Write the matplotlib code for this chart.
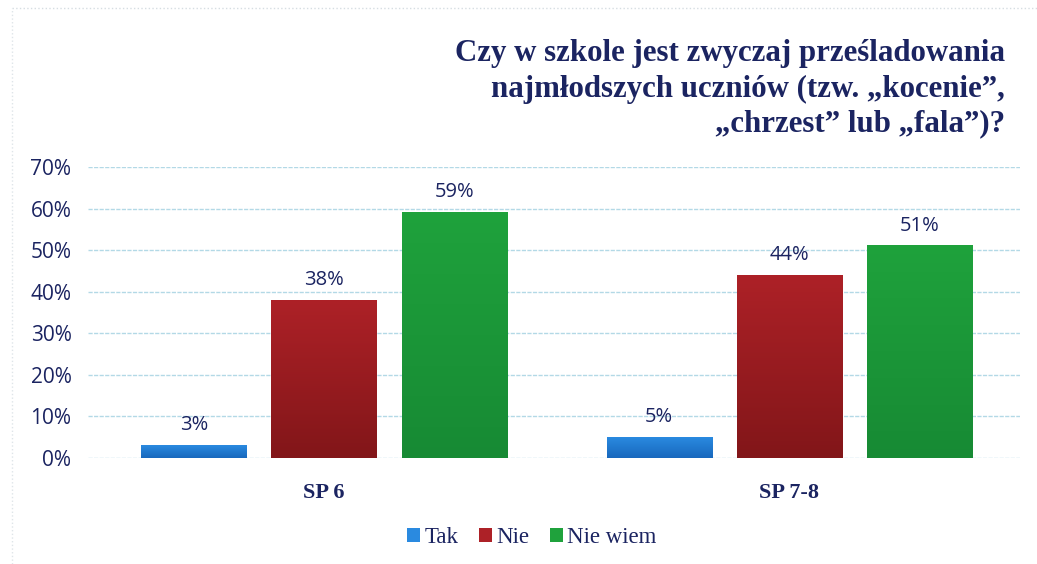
import numpy as np
import matplotlib.pyplot as plt
from matplotlib.colors import LinearSegmentedColormap
from matplotlib.lines import Line2D

# data
groups = ['SP 6', 'SP 7-8']
series = ['Tak', 'Nie', 'Nie wiem']
tak = [3, 5]
nie = [38, 44]
nie_wiem = [59, 51]
# (top, bottom) colours for the bar gradients
colors = [('#2a8ae0', '#1868bd'), ('#ad2127', '#821619'), ('#1fa23c', '#178a34')]

navy = '#1b2461'
fig = plt.figure(figsize=(10.37, 5.64), dpi=100)
ax = fig.add_axes([0.085, 0.188, 0.899, 0.516])

x = np.arange(len(groups))
width = 0.226
step = 0.2796
grad = np.linspace(0, 1, 256).reshape(-1, 1)
bars = []
for i, (vals, (ctop, cbot)) in enumerate(zip([tak, nie, nie_wiem], colors)):
    cmap = LinearSegmentedColormap.from_list('g%d' % i, [ctop, cbot])
    b = ax.bar(x + (i - 1) * step, np.array(vals) / 100, width, color=ctop,
               label=series[i], zorder=3)
    bars.append(b)
    for rect in b:
        x0, y0 = rect.get_x(), rect.get_y()
        ax.imshow(grad, cmap=cmap, aspect='auto', zorder=4,
                  extent=[x0, x0 + rect.get_width(), y0, y0 + rect.get_height()])
    for xi, v in zip(x, vals):
        ax.text(xi + (i - 1) * step, v / 100 + 0.025, f'{v}%', ha='center',
                va='bottom', fontsize=14.5, color=navy, family='Open Sans')

ax.set_xlim(-0.507, 1.497)
ax.set_ylim(0, 0.7)
ticks = np.arange(0, 0.71, 0.1)
ax.set_yticks(ticks)
ax.set_yticklabels([f'{int(round(t * 100))}%' for t in ticks],
                   fontsize=15, color=navy, family='Open Sans')
ax.set_xticks(x)
ax.set_xticklabels(groups, fontsize=16, fontweight='bold', color=navy,
                   family='Liberation Serif')
ax.tick_params(axis='both', length=0)
ax.tick_params(axis='x', pad=18)
ax.tick_params(axis='y', pad=12)
ax.grid(axis='y', color='#b3d9e6', linestyle=(0, (3, 1)), linewidth=1, zorder=0)
for s in ax.spines.values():
    s.set_visible(False)

fig.text(0.969, 0.93, 'Czy w szkole jest zwyczaj prześladowania\n'
         'najmłodszych uczniów (tzw. „kocenie”,\n„chrzest” lub „fala”)?',
         ha='right', va='top', multialignment='right', fontsize=22.2,
         fontweight='bold', color=navy, family='Liberation Serif', linespacing=1.27)

leg = fig.legend(handles=bars, labels=series, loc='center', bbox_to_anchor=(0.513, 0.047),
                 ncol=3, frameon=False, handlelength=0.55, handleheight=0.55,
                 handletextpad=0.2, columnspacing=0.9,
                 prop={'family': 'Liberation Serif', 'size': 16.5})
for t in leg.get_texts():
    t.set_color(navy)

# faint frame of the scanned chart box
fig.add_artist(Line2D([0.012, 1.0], [0.985, 0.985], color='#d6dde2',
                      linestyle=':', linewidth=1))
fig.add_artist(Line2D([0.012, 0.012], [0.0, 0.985], color='#dfe5e9',
                      linestyle=':', linewidth=1))

fig.savefig('out.png', dpi=100)
